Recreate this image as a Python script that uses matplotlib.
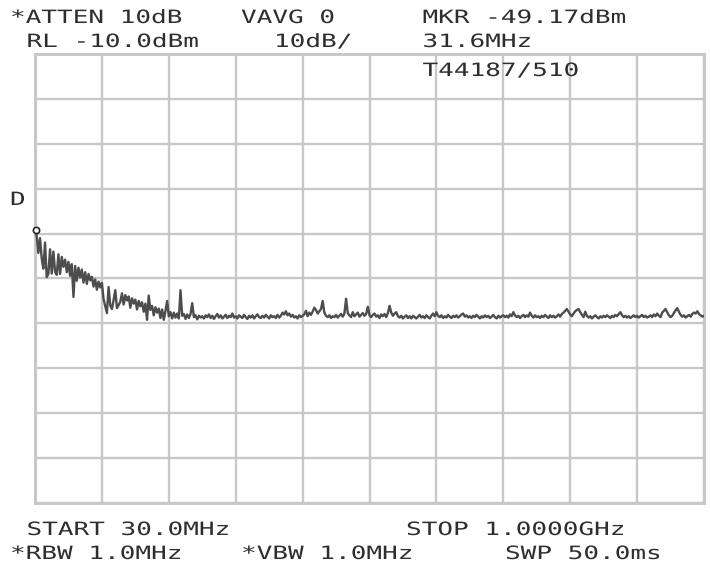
import numpy as np
import matplotlib
matplotlib.use("Agg")
import matplotlib.pyplot as plt
from matplotlib.patheffects import AbstractPathEffect
from matplotlib.transforms import Affine2D

# Sweep settings
start_mhz = 30.0
stop_mhz = 1000.0
ref_level = -10.0          # dBm, top graticule line
db_per_div = 10.0
n_points = 401

# Marker readout
marker_freq = 31.6         # MHz
marker_level = -49.17      # dBm

# Trace amplitudes (dBm), one per sweep point
trace_low_band = [
    -49.0, -50.5, -54.3, -51.0, -55.5, -57.8, -52.0, -59.7, -59.0, -53.5,
    -58.9, -54.0, -58.5, -59.2, -54.6, -59.0, -55.2, -57.4, -55.8, -58.6,
    -56.3, -59.4, -56.8, -64.1, -57.2, -60.5, -57.6, -59.8, -58.0, -60.9,
    -58.6, -61.2, -59.0, -60.4, -59.6, -61.8, -60.2, -62.5, -60.7, -62.0,
    -61.0, -64.6, -66.2, -67.7, -61.9, -66.0, -66.8, -64.8, -62.6, -66.6,
    -65.9, -65.2, -63.3, -65.8, -63.7, -64.9, -64.0, -66.5, -64.4, -65.6,
    -64.7, -66.9, -65.0, -66.2, -65.3, -67.4, -65.6, -69.2, -63.8, -67.0,
    -66.1, -68.2, -66.4, -67.6, -66.7, -68.8, -66.9, -69.2, -67.2, -65.0,
    -68.4, -67.5, -68.9, -67.6, -68.7, -67.8, -68.9, -62.6, -68.3, -67.9,
    -69.0, -68.0, -68.8, -67.9, -65.5, -68.6, -68.2, -69.1, -68.3, -68.7,
    -68.4,
]
trace_high_band = [
    -68.9, -68.2, -68.6, -68.0, -68.8, -68.3, -69.0, -68.4, -67.9, -68.7,
    -68.2, -68.9, -68.5, -68.1, -68.8, -68.3, -68.6, -67.8, -68.7, -68.4,
    -68.9, -68.2, -68.5, -68.8, -68.1, -68.6, -69.0, -68.3, -68.7, -68.2,
    -68.9, -68.4, -68.0, -68.6, -68.8, -68.3, -68.7, -68.1, -68.5, -68.9,
    -68.2, -68.6, -68.4, -68.8, -68.1, -68.7, -68.3, -67.6, -68.0, -67.3,
    -68.2, -67.8, -68.5, -68.1, -68.7, -68.4, -68.9, -68.2, -68.6, -68.3,
    -68.0, -67.2, -68.4, -67.6, -68.1, -67.4, -66.5, -67.0, -67.8, -67.3,
    -66.8, -65.0, -67.6, -68.3, -68.6, -68.2, -68.8, -68.4, -68.6, -68.1,
    -68.7, -68.3, -67.9, -68.5, -67.8, -64.5, -67.7, -68.2, -68.6, -67.5,
    -68.4, -68.0, -67.6, -68.5, -68.1, -67.7, -68.3, -67.9, -66.3, -68.2,
    -68.6, -68.1, -67.8, -68.5, -68.2, -68.8, -68.0, -68.4, -67.9, -68.6,
    -67.7, -66.1, -67.6, -68.3, -67.8, -67.5, -68.4, -68.7, -68.3, -68.9,
    -68.5, -68.2, -68.8, -68.4, -68.9, -68.3, -68.6, -68.9, -68.5, -68.1,
    -68.7, -68.4, -68.8, -68.2, -68.6, -68.9, -68.3, -67.8, -68.4, -67.5,
    -68.3, -68.6, -68.2, -68.8, -68.4, -68.7, -68.1, -68.5, -68.8, -68.3,
    -68.6, -68.2, -68.7, -68.4, -68.0, -67.8, -68.5, -68.2, -68.7, -68.4,
    -68.8, -68.3, -68.6, -68.1, -68.5, -68.9, -68.4, -68.7, -68.2, -68.6,
    -68.3, -68.8, -68.5, -68.1, -68.6, -68.9, -68.3, -68.7, -68.4, -68.2,
    -68.6, -68.3, -68.7, -68.0, -68.4, -67.5, -68.2, -68.6, -68.3, -68.8,
    -68.4, -68.1, -68.6, -68.2, -68.5, -67.6, -68.3, -68.7, -68.2, -68.6,
    -68.4, -68.8, -68.3, -68.6, -68.1, -68.5, -68.8, -68.2, -68.6, -68.3,
    -68.7, -68.4, -68.0, -68.5, -67.9, -67.6, -67.2, -66.8, -67.4, -68.0,
    -68.4, -67.8, -67.3, -67.0, -66.8, -67.5, -68.1, -68.6, -67.4, -68.3,
    -68.7, -68.4, -68.9, -68.5, -68.2, -68.6, -68.9, -68.4, -68.7, -68.3,
    -68.6, -68.2, -68.5, -68.8, -68.3, -68.6, -68.1, -68.4, -67.9, -67.5,
    -68.2, -68.6, -68.3, -68.7, -68.4, -68.8, -68.5, -68.2, -68.6, -68.3,
    -68.7, -68.4, -68.1, -68.6, -68.3, -68.7, -68.5, -68.2, -68.6, -68.0,
    -68.4, -67.8, -68.3, -68.6, -67.6, -67.2, -66.8, -67.5, -68.2, -68.6,
    -68.3, -67.7, -67.1, -66.6, -67.4, -68.1, -68.5, -68.2, -68.7, -68.4,
    -68.1, -68.5, -67.9, -67.6, -67.8, -67.3, -67.9, -68.2, -68.5, -68.3,
]
trace_dbm = np.array(trace_low_band + trace_high_band)
sweep_mhz = np.linspace(start_mhz, stop_mhz, n_points)

# Annotation fields: (text, column, row baseline in px)
header_fields = [
    ("*ATTEN 10dB", 0, 23),
    ("VAVG 0", 14, 23),
    ("MKR -49.17dBm", 25, 23),
    ("RL -10.0dBm", 1, 47),
    ("10dB/", 16, 47),
    ("31.6MHz", 25, 47),
    ("T44187/510", 25, 76),
]
footer_fields = [
    ("START 30.0MHz", 1, 535),
    ("STOP 1.0000GHz", 24, 535),
    ("*RBW 1.0MHz", 0, 559),
    ("*VBW 1.0MHz", 14, 559),
    ("SWP 50.0ms", 30, 559),
]


class WideGlyphs(AbstractPathEffect):
    """Draw text glyphs stretched horizontally, like a CRT character cell."""

    def __init__(self, sx):
        super().__init__()
        self._sx = sx

    def draw_path(self, renderer, gc, tpath, affine, rgbFace=None):
        renderer.draw_path(gc, tpath, Affine2D().scale(self._sx, 1.0) + affine,
                           rgbFace)


W, H = 710, 569
fig = plt.figure(figsize=(W / 100, H / 100), dpi=100)
fig.patch.set_facecolor("white")

left, right, top, bottom = 35, 704, 54, 503
ax = fig.add_axes([left / W, 1 - bottom / H, (right - left) / W, (bottom - top) / H])

bottom_level = ref_level - 10 * db_per_div
ax.set_xlim(start_mhz, stop_mhz)
ax.set_ylim(bottom_level, ref_level)

grid_color = "#c8c8c8"
ax.set_xticks(np.linspace(start_mhz, stop_mhz, 11))
ax.set_yticks(np.linspace(bottom_level, ref_level, 11))
ax.tick_params(length=0, labelbottom=False, labelleft=False)
ax.grid(True, color=grid_color, linewidth=1.7)
ax.set_axisbelow(True)
for sp in ax.spines.values():
    sp.set_color(grid_color)
    sp.set_linewidth(2.2)

ax.plot(sweep_mhz, trace_dbm, color="#4d4d4d", linewidth=1.7,
        solid_joinstyle="round", zorder=3)
ax.plot([marker_freq], [marker_level], marker="o", markersize=4.5,
        markerfacecolor="white", markeredgecolor="#222222",
        markeredgewidth=1.2, zorder=4, clip_on=False)

# CRT-style annotation text on a fixed character grid
cell = 16.5
col0 = 10
font = dict(family="DejaVu Sans Mono", size=13.2, color="#2e2e2e")
stretch = [WideGlyphs(1.42)]


def put(text, col, base):
    fig.text((col0 + col * cell) / W, 1 - base / H, text, ha="left",
             va="baseline", path_effects=stretch, **font)


for txt, col, base in header_fields + footer_fields:
    put(txt, col, base)
put("D", 0, 205)

fig.savefig("out.png", dpi=100, facecolor="white")
